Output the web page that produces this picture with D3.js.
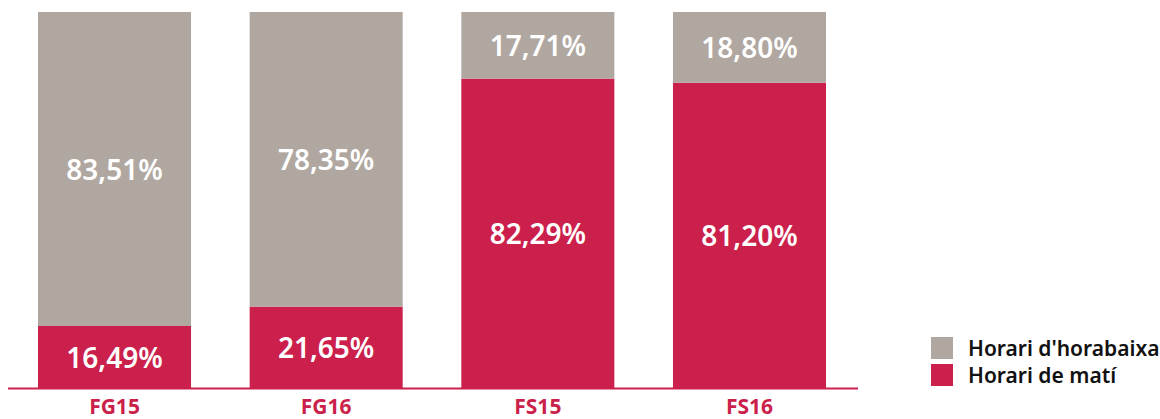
<!DOCTYPE html>
<html>
<head>
<meta charset="utf-8">
<script src="https://cdn.jsdelivr.net/npm/d3@7"></script>
<style>
  body { margin: 0; background: #fff; }
  svg text { font-family: "Noto Sans", sans-serif; }
  .value-label { fill: #fff; font-size: 28px; font-weight: 600; }
  .cat-label { fill: #cb1f4c; font-size: 21px; font-weight: 700; }
  .legend-label { fill: #111; font-size: 21px; font-weight: 600; }
</style>
</head>
<body>
<div id="chart"></div>
<script>
// values
var categories = ["FG15", "FG16", "FS15", "FS16"];
var mati = [16.49, 21.65, 82.29, 81.20];       // Horari de matí
var horabaixa = [83.51, 78.35, 17.71, 18.80];  // Horari d'horabaixa
var seriesNames = ["Horari de matí", "Horari d'horabaixa"];
var yTicks = [0, 100];

var colorMati = "#cb1f4c";
var colorHorabaixa = "#b0a7a1";

var formatPct = function(v) { return d3.format(".2f")(v).replace(".", ",") + "%"; };

var width = 1160, height = 419;
var margin = {top: 12, bottom: 31};

var svg = d3.select("#chart")
  .append("svg")
    .attr("width", width)
    .attr("height", height);

var x = d3.scaleBand()
    .domain(categories)
    .range([38, 826])
    .paddingInner(0.277)
    .paddingOuter(0);

var y = d3.scaleLinear()
    .domain([yTicks[0], yTicks[1]])
    .range([height - margin.bottom, margin.top]);

var rows = categories.map(function(c, i) {
    return {cat: c, mati: mati[i], horabaixa: horabaixa[i]};
});

var stack = d3.stack().keys(["mati", "horabaixa"]);
var layers = stack(rows);
var colors = {mati: colorMati, horabaixa: colorHorabaixa};

var groups = svg.selectAll("g.layer")
    .data(layers)
    .enter()
    .append("g")
      .attr("class", "layer")
      .attr("fill", function(d) { return colors[d.key]; });

groups.selectAll("rect")
    .data(function(d) { return d; })
    .enter()
    .append("rect")
      .attr("x", function(d) { return x(d.data.cat); })
      .attr("y", function(d) { return y(d[1]); })
      .attr("width", x.bandwidth())
      .attr("height", function(d) { return y(d[0]) - y(d[1]); });

groups.selectAll("text")
    .data(function(d) { return d.map(function(p) { p.key = d.key; return p; }); })
    .enter()
    .append("text")
      .attr("class", "value-label")
      .attr("text-anchor", "middle")
      .attr("dominant-baseline", "central")
      .attr("x", function(d) { return x(d.data.cat) + x.bandwidth() / 2; })
      .attr("y", function(d) { return (y(d[0]) + y(d[1])) / 2; })
      .text(function(d) { return formatPct(d.data[d.key]); });

// baseline
svg.append("line")
    .attr("x1", 8)
    .attr("x2", 858)
    .attr("y1", y(0) + 0.5)
    .attr("y2", y(0) + 0.5)
    .style("stroke", colorMati)
    .style("stroke-width", "2px");

// category labels
var xAxis = svg.append("g")
    .attr("transform", "translate(0," + y(0) + ")")
    .call(d3.axisBottom(x).tickSize(0).tickPadding(0));
xAxis.select(".domain").remove();
xAxis.selectAll("text")
    .attr("class", "cat-label")
    .attr("fill", null)
    .attr("font-size", null)
    .attr("font-family", null)
    .attr("dy", null)
    .attr("y", 18)
    .attr("dominant-baseline", "central");

// legend
var legendItems = [
    {name: seriesNames[1], color: colorHorabaixa},
    {name: seriesNames[0], color: colorMati}
];
var legend = svg.selectAll("g.legend")
    .data(legendItems)
    .enter()
    .append("g")
      .attr("class", "legend")
      .attr("transform", function(d, i) { return "translate(931," + (337 + i * 27) + ")"; });

legend.append("rect")
    .attr("width", 22)
    .attr("height", 22)
    .attr("fill", function(d) { return d.color; });

legend.append("text")
    .attr("class", "legend-label")
    .attr("x", 37)
    .attr("y", 11)
    .attr("dominant-baseline", "central")
    .text(function(d) { return d.name; });
</script>
</body>
</html>
